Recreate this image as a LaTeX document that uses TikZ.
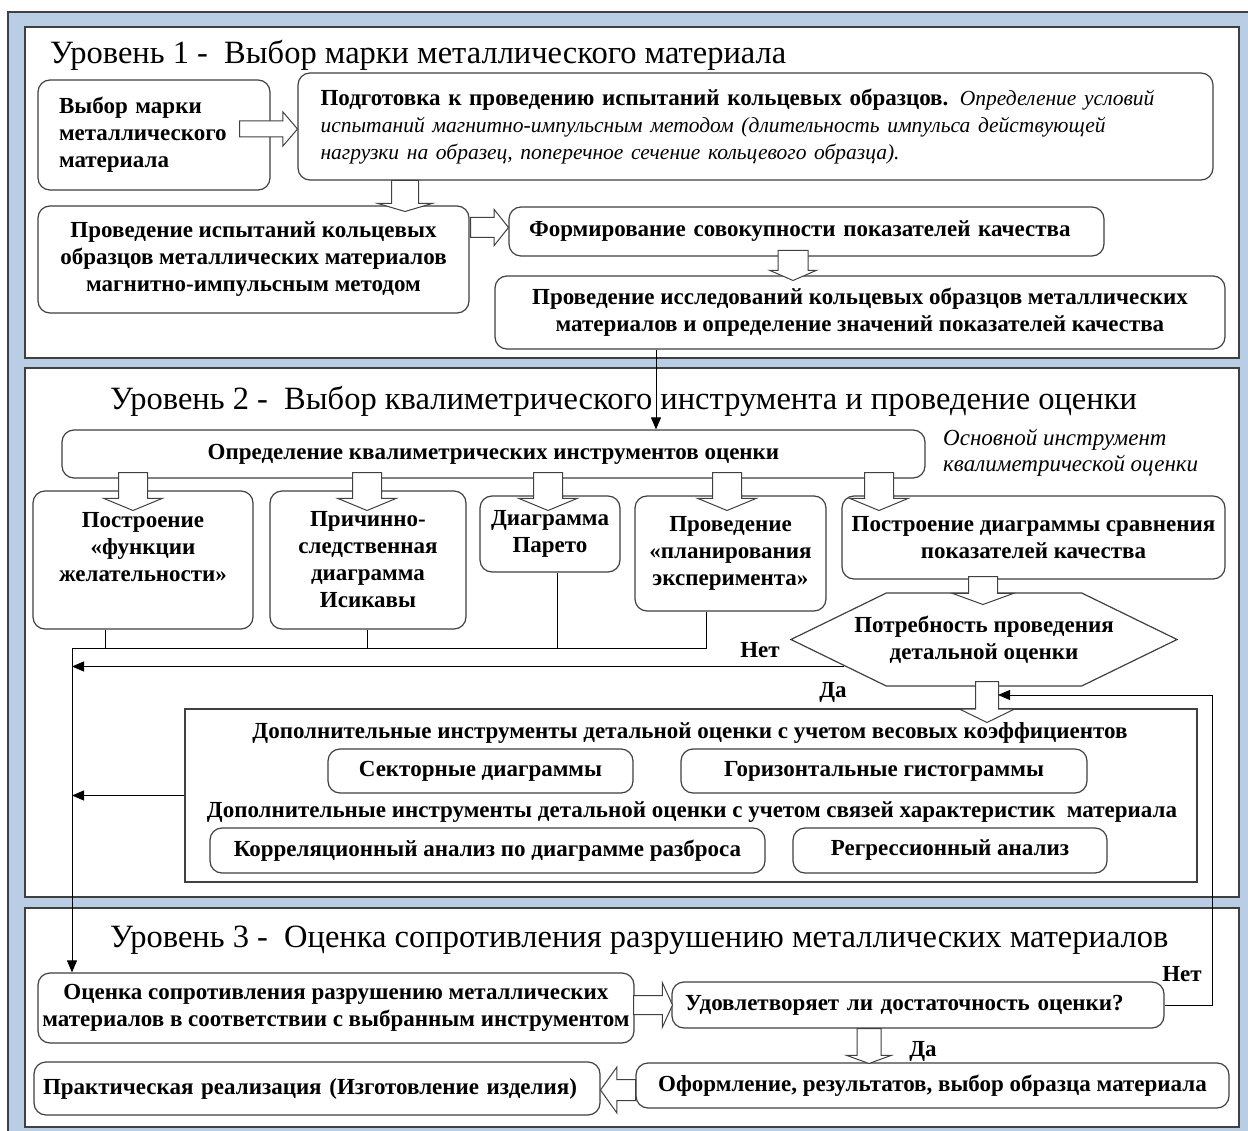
\documentclass[tikz,border=0pt]{standalone}
\usepackage{fontspec}
\setmainfont{Liberation Serif}
\usetikzlibrary{arrows.meta, positioning, shapes.arrows, shapes.symbols}

\definecolor{bgblue}{HTML}{B9CDE5}
\definecolor{rimgray}{HTML}{404040}

\newcommand{\bodysize}{\fontsize{23}{27}\selectfont}
\newcommand{\headsize}{\fontsize{32.5}{36}\selectfont}
\newcommand{\notesize}{\fontsize{23}{26}\selectfont}
\newcommand{\smallit}{\fontsize{21.5}{27}\selectfont\mdseries\itshape}

\begin{document}
\begin{tikzpicture}[x=1pt, y=-1pt,
  panel/.style      = {draw=rimgray, line width=1.5pt, fill=white},
  box/.style        = {draw=rimgray, line width=1.2pt, fill=white, rounded corners=12pt,
                       font=\bodysize\bfseries, align=center, inner sep=2pt},
  leveltitle/.style = {font=\headsize, anchor=west, inner sep=0pt},
  tag/.style        = {font=\bodysize\bfseries, inner sep=0pt},
  blockarr/.style   = {single arrow, draw=rimgray, line width=1pt, fill=white,
                       inner sep=0pt, anchor=tail},
  conn/.style       = {draw=black, line width=1pt, -{Triangle[length=12pt, width=10pt]}},
  wire/.style       = {draw=black, line width=1pt}
]

\useasboundingbox (0,0) rectangle (1248,1131);

% background and the three levels
\path [draw=rimgray, line width=1.5pt, fill=bgblue] (8,12) rectangle (1252,1136);
\path [panel] (25,27)  rectangle (1239,358);
\path [panel] (25,368) rectangle (1239,897);
\path [panel] (25,908) rectangle (1239,1127);

\node [leveltitle] (t1) at (50,55)   {Уровень 1 -\ \ Выбор марки металлического материала};
\node [leveltitle] (t2) at (110,401) {Уровень 2 -\ \ Выбор квалиметрического инструмента и проведение оценки};
\node [leveltitle] (t3) at (110,940) {Уровень 3 -\ \ Оценка сопротивления разрушению металлических материалов};

% level 1
\node [box, minimum width=232pt, minimum height=110pt, text width=190pt, align=left] (grade) at (154,135) {Выбор марки\\металлического\\материала};
\node [box, minimum width=915pt, minimum height=107pt, text width=870pt, align=left] (prep) at (755.5,126.5)
  {Подготовка к проведению испытаний кольцевых образцов. {\smallit Определение условий}\\
   {\smallit испытаний магнитно-импульсным методом (длительность импульса действующей}\\
   {\smallit нагрузки на образец, поперечное сечение кольцевого образца).}};
\node [box, minimum width=431pt, minimum height=107pt] (test) at (253.5,259.5) {Проведение испытаний кольцевых\\образцов металлических материалов\\магнитно-импульсным методом};
\node [box, minimum width=595pt, minimum height=49pt, text width=555pt, align=left] (set) at (806.5,231.5) {Формирование совокупности показателей качества};
\node [box, minimum width=730pt, minimum height=73pt] (study) at (860,312.5) {Проведение исследований кольцевых образцов металлических\\материалов и определение значений показателей качества};

% level 2
\node [box, minimum width=863pt, minimum height=48pt] (define) at (493.5,454) {Определение квалиметрических инструментов оценки};
\node [font=\notesize\itshape, align=left, anchor=west, inner sep=0pt] (note) at (943,453) {Основной инструмент\\квалиметрической оценки};

\node [box, minimum width=220pt, minimum height=138pt] (desir)  at (143,560)    {Построение\\«функции\\желательности»\\\mbox{}};
\node [box, minimum width=196pt, minimum height=138pt] (ishik)  at (368,560)    {Причинно-\\следственная\\диаграмма\\Исикавы};
\node [box, minimum width=140pt, minimum height=76pt]  (pareto) at (550,534)    {Диаграмма\\Парето};
\node [box, minimum width=191pt, minimum height=115pt] (plan)   at (730.5,553.5) {Проведение\\«планирования\\эксперимента»};
\node [box, minimum width=383pt, minimum height=83pt]  (chart)  at (1033.5,537.5) {Построение диаграммы сравнения\\показателей качества};

% the text runs into the pointed ends, as in the source
\node [box, signal, signal to=west and east, signal pointer angle=52, sharp corners,
       inner xsep=-32pt, minimum height=93pt] (need) at (984,639.5) {Потребность проведения\\детальной оценки};

\node [draw=rimgray, line width=1.2pt, fill=white, minimum width=1012pt, minimum height=173pt, inner sep=0pt] (extra) at (691,795.5) {};
\node [tag] (weights) at (690,733) {Дополнительные инструменты детальной оценки с учетом весовых коэффициентов};
\node [box, minimum width=305pt, minimum height=44pt] (sector) at (480.5,771)  {Секторные диаграммы};
\node [box, minimum width=406pt, minimum height=44pt] (histo)  at (884,771)    {Горизонтальные гистограммы};
\node [tag] (links) at (692,812) {Дополнительные инструменты детальной оценки с учетом связей характеристик\ \ материала};
\node [box, minimum width=555pt, minimum height=45pt] (corr)   at (487.5,850.5) {Корреляционный анализ по диаграмме разброса};
\node [box, minimum width=314pt, minimum height=45pt] (regr)   at (950,850.5)   {Регрессионный анализ};

% level 3
\node [box, minimum width=596pt, minimum height=70pt] (assess) at (336,1008) {Оценка сопротивления разрушению металлических\\материалов в соответствии с выбранным инструментом};
\node [box, minimum width=492pt, minimum height=46pt, text width=466pt, align=left] (check) at (918,1005) {Удовлетворяет ли достаточность оценки?};
\node [box, minimum width=593pt, minimum height=45pt] (report) at (932.5,1085.5) {Оформление, результатов, выбор образца материала};
\node [box, minimum width=566pt, minimum height=53pt, text width=548pt, align=left] (make) at (317,1088.5) {Практическая реализация (Изготовление изделия)};

% thin connectors
\coordinate (bus)  at (72,648);
\coordinate (loop) at (1212,695);

\draw [conn] (study.south -| 656,0) -- (define.north -| 656,0);
\draw [wire] (desir.south -| 105,0)  -- (105,648);
\draw [wire] (ishik.south -| 367,0)  -- (367,648);
\draw [wire] (pareto.south -| 557,0) -- (557,648);
\draw [conn] (plan.south -| 706,0) |- (bus) -- (assess.north -| bus);
\draw [conn] ([xshift=54pt, yshift=-27pt]need.west) coordinate (nofrom) -- (nofrom -| bus);
\draw [conn] (extra.west) -- (extra.west -| bus);

% hollow arrows
\node [blockarr, minimum height=58pt, text height=15pt, single arrow head extend=9pt,  single arrow tip angle=99]  (a1) at (239,129) {};
\node [blockarr, rotate=-90, minimum height=31pt, text height=26pt, single arrow head extend=14pt, single arrow tip angle=147] (a2) at (405,180) {};
\node [blockarr, minimum height=38pt, text height=19pt, single arrow head extend=8pt,  single arrow tip angle=103] (a3) at (470,227.5) {};
\node [blockarr, rotate=-90, minimum height=30pt, text height=29pt, single arrow head extend=8.5pt, single arrow tip angle=133] (a4) at (793,250) {};

\foreach \x [count=\i] in {133, 367, 548, 727, 879}
  \node [blockarr, rotate=-90, minimum height=38pt, text height=28pt, single arrow head extend=15pt, single arrow tip angle=135] (d\i) at (\x,472) {};

\node [blockarr, rotate=-90, minimum height=28pt, text height=28pt, single arrow head extend=16pt, single arrow tip angle=140] (a5) at (983,576) {};
\node [blockarr, rotate=-90, minimum height=41pt, text height=22pt, single arrow head extend=16pt, single arrow tip angle=128] (hx) at (987,681) {};

\node [blockarr, minimum height=39pt, text height=18pt, single arrow head extend=13pt, single arrow tip angle=131] (a6) at (633,1005) {};
\node [blockarr, rotate=-90, minimum height=35pt, text height=23pt, single arrow head extend=10.5pt, single arrow tip angle=140] (a7) at (869,1028) {};
\node [blockarr, rotate=180, minimum height=35pt, text height=20pt, single arrow head extend=12.5pt, single arrow tip angle=109] (a8) at (636,1090) {};

\draw [conn] (check.east) -| (loop) -- ([xshift=11pt]hx.center |- loop);

% yes / no
\node [tag] (no1)  at (760,650)  {Нет};
\node [tag] (yes1) at (833,692)  {Да};
\node [tag] (no2)  at (1182,974) {Нет};
\node [tag] (yes2) at (923,1051) {Да};

\end{tikzpicture}
\end{document}
